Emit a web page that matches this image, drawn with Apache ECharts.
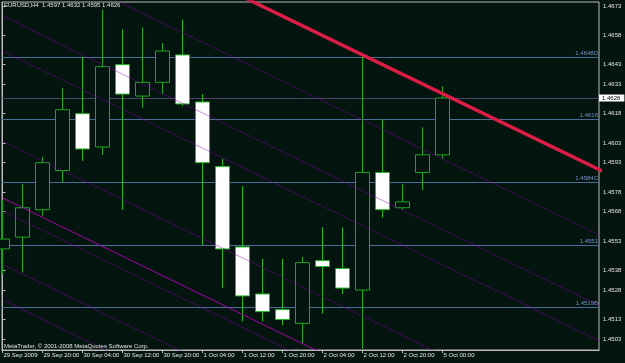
<!DOCTYPE html>
<html><head><meta charset="utf-8">
<script src="https://cdn.jsdelivr.net/npm/echarts@6/dist/echarts.min.js"></script>
<style>html,body{margin:0;padding:0;background:#04140e;} #c{width:625px;height:363px;}</style>
</head><body><div id="c"></div>
<script>
// ---- data ----
const symbolName = 'EURUSD,H4';
const barTimes = ['29 Sep 12:00','29 Sep 16:00','29 Sep 20:00','30 Sep 00:00','30 Sep 04:00','30 Sep 08:00','30 Sep 12:00','30 Sep 16:00','30 Sep 20:00','1 Oct 00:00','1 Oct 04:00','1 Oct 08:00','1 Oct 12:00','1 Oct 16:00','1 Oct 20:00','2 Oct 00:00','2 Oct 04:00','2 Oct 08:00','2 Oct 12:00','2 Oct 16:00','2 Oct 20:00','4 Oct 20:00','5 Oct 00:00'];
const opens  = [1.4549,1.4555,1.4569,1.4589,1.4618,1.4601,1.4643,1.4627,1.4634,1.4648,1.4624,1.4591,1.4550,1.4526,1.4518,1.4511,1.4543,1.4539,1.4528,1.4588,1.4570,1.4588,1.4597];
const highs  = [1.4574,1.4582,1.4596,1.4631,1.4647,1.4671,1.4661,1.4662,1.4654,1.4666,1.4628,1.4595,1.4581,1.4544,1.4544,1.4545,1.4560,1.4560,1.4647,1.4615,1.4582,1.4611,1.4632];
const lows   = [1.4536,1.4537,1.4566,1.4583,1.4594,1.4597,1.4569,1.4621,1.4628,1.4622,1.4551,1.4529,1.4512,1.4512,1.4510,1.4501,1.4516,1.4526,1.4498,1.4565,1.4569,1.4579,1.4595];
const closes = [1.4554,1.4570,1.4593,1.4620,1.4600,1.4642,1.4628,1.4634,1.4650,1.4623,1.4593,1.4549,1.4525,1.4517,1.4513,1.4542,1.4540,1.4529,1.4588,1.4569,1.4573,1.4597,1.4626];

const xTickBars   = [0,2,4,6,8,10,12,14,16,18,20,22];
const xTickLabels = ['29 Sep 2009','29 Sep 20:00','30 Sep 04:00','30 Sep 12:00','30 Sep 20:00','1 Oct 04:00','1 Oct 12:00','1 Oct 20:00','2 Oct 04:00','2 Oct 12:00','2 Oct 20:00','5 Oct 00:00'];
const yTickValues = [1.4673,1.4658,1.4643,1.4633,1.4618,1.4603,1.4593,1.4578,1.4568,1.4553,1.4538,1.4528,1.4513,1.4503];

const levelValues = [1.4647,1.4615,1.4583,1.4551,1.4519];
const levelNames  = ['1.4648D','1.4616','1.4584C','1.4551','1.4519B'];

const trendBars   = [10, 30];
const trendPrices = [1.46876, 1.45886];
const channelBars  = [0, 30];
const channelStart = [1.4704, 1.46679, 1.46500, 1.46039, 1.45750, 1.45684, 1.45411, 1.45230];
const channelEnd   = [1.45553, 1.45192, 1.45013, 1.44552, 1.44263, 1.44197, 1.43924, 1.43743];
const brightChannel = 4;

const copyright = 'MetaTrader, \u00a9 2001-2008 MetaQuotes Software Corp.';

// ---- chart ----
const FONT = 'Liberation Sans';
const AX = '#bcbcbc';
const TXT = '#e4e4e4';
const n = opens.length;
const last = n - 1;
const candleData = opens.map((o, i) => [i, o, closes[i], lows[i], highs[i]]);
const headline = symbolName + '  ' + [opens[last], highs[last], lows[last], closes[last]].map(v => v.toFixed(4)).join(' ');

const lineSeries = channelStart.map((s, k) => ({
  type: 'line', silent: true, symbol: 'none', z: 4, clip: true, animation: false,
  data: [[channelBars[0], s], [channelBars[1], channelEnd[k]]],
  lineStyle: k === brightChannel
    ? { color: 'rgba(205,0,205,0.8)', width: 1 }
    : { color: 'rgba(140,0,180,0.45)', width: 1 }
}));
lineSeries.push({
  type: 'line', silent: true, symbol: 'none', z: 5, clip: true, animation: false,
  data: [[trendBars[0], trendPrices[0]], [trendBars[1], trendPrices[1]]],
  lineStyle: { color: '#dc1e46', width: 3.5 }
});

const levelMarks = levelValues.map((v, k) => ({
  yAxis: v,
  lineStyle: { color: '#4d6d98', width: 1, type: 'solid' },
  label: { show: true, position: 'insideEndTop', formatter: levelNames[k], color: '#7394cc', fontSize: 6, fontFamily: FONT, distance: 1 }
}));
levelMarks.push({
  yAxis: closes[last],
  lineStyle: { color: '#4e4668', width: 1, type: 'solid' },
  label: { show: true, position: 'end', formatter: closes[last].toFixed(4), color: '#000', backgroundColor: '#ffffff', fontSize: 6, fontFamily: FONT, padding: [1, 4, 0, 3], distance: 0 }
});

const chart = echarts.init(document.getElementById('c'), null, { renderer: 'canvas' });
chart.setOption({
  backgroundColor: '#04140e',
  animation: false,
  title: [
    { text: headline, left: 4, top: 2, padding: 0, textStyle: { color: TXT, fontSize: 6, fontWeight: 'normal', fontFamily: FONT } },
    { text: copyright, left: 4, top: 343, padding: 0, textStyle: { color: TXT, fontSize: 6, fontWeight: 'normal', fontFamily: FONT } }
  ],
  grid: { left: 2, right: 26, top: 2, bottom: 13, show: true, borderColor: AX, borderWidth: 1, backgroundColor: 'transparent' },
  xAxis: {
    type: 'value', min: -0.025, max: 29.825,
    axisLine: { show: true, lineStyle: { color: AX } },
    splitLine: { show: false },
    axisTick: { show: true, customValues: xTickBars, length: 3, lineStyle: { color: AX } },
    axisLabel: {
      customValues: xTickBars, color: TXT, fontSize: 6, fontFamily: FONT, margin: 2, align: 'left', padding: [0, 0, 0, 1],
      formatter: v => { const k = xTickBars.indexOf(Math.round(v)); return k >= 0 ? xTickLabels[k] : ''; }
    }
  },
  yAxis: {
    type: 'value', position: 'right', min: 1.44974, max: 1.46750, scale: true,
    axisLine: { show: true, lineStyle: { color: AX } },
    splitLine: { show: false },
    axisTick: { show: true, customValues: yTickValues, length: 3, lineStyle: { color: AX } },
    axisLabel: { customValues: yTickValues, color: TXT, fontSize: 6, fontFamily: FONT, margin: 4, formatter: v => v.toFixed(4) }
  },
  series: [
    {
      type: 'line', z: 1, silent: true, symbol: 'none', data: [], animation: false,
      markLine: { silent: true, symbol: 'none', animation: false, precision: 5, z: 1, data: levelMarks }
    },
    {
      type: 'candlestick', z: 3, barWidth: 14, animation: false,
      data: candleData,
      itemStyle: { color: '#04140e', color0: '#ffffff', borderColor: '#1ea81e', borderColor0: '#22b822', borderWidth: 1 }
    }
  ].concat(lineSeries)
});
</script>
</body></html>
